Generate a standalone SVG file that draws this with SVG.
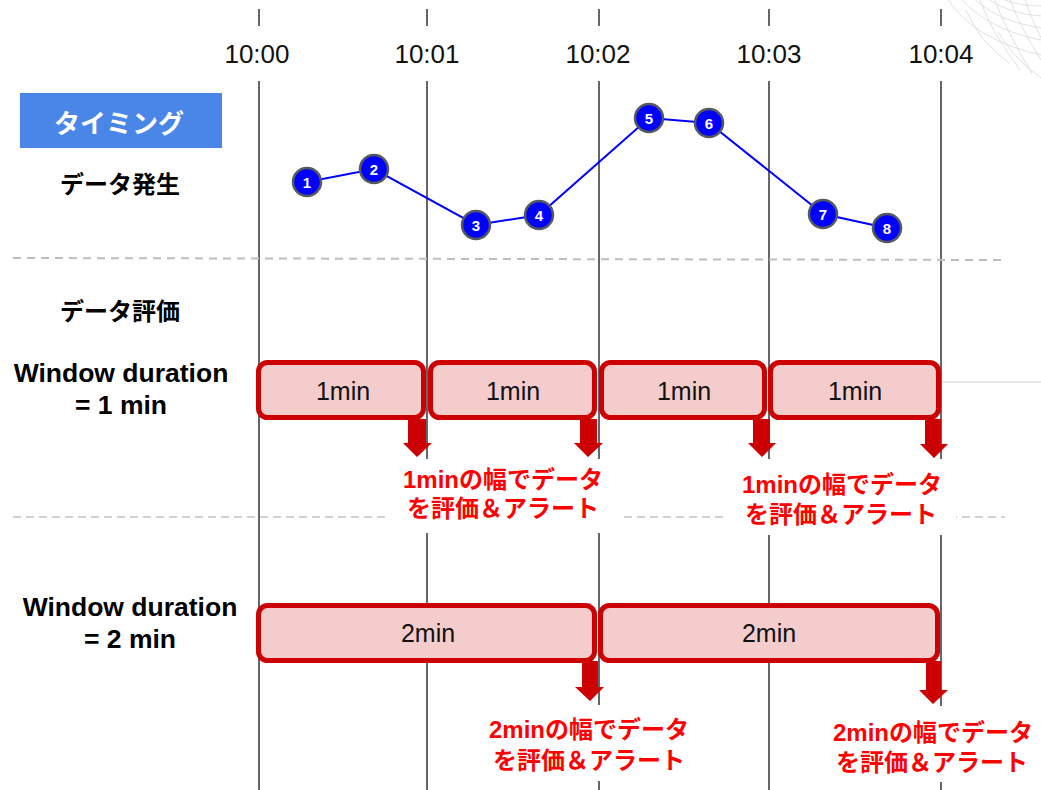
<svg xmlns="http://www.w3.org/2000/svg" width="1041" height="790" viewBox="0 0 1041 790">
<defs>
<style>
.vl{stroke:#64666b;stroke-width:2;fill:none}
.tm{font-family:"Liberation Sans",Arial,sans-serif;font-size:26px;fill:#111;text-anchor:middle}
.lbl{font-family:"Liberation Sans","Noto Sans CJK JP",sans-serif;font-weight:bold;font-size:24px;fill:#000;text-anchor:middle}
.wd{font-family:"Liberation Sans",Arial,sans-serif;font-weight:bold;font-size:26.5px;fill:#000;text-anchor:middle}
.dash1{stroke:#bdbdbd;stroke-width:2;stroke-dasharray:8,6;fill:none}
.dash2{stroke:#c4c4c4;stroke-width:1.6;stroke-dasharray:8,5;fill:none}
.box{fill:#f4cccc;stroke:#cc0000;stroke-width:5}
.bt{font-family:"Liberation Sans",Arial,sans-serif;font-size:25px;fill:#111;text-anchor:middle}
.arr{fill:#cc0000}
.rt{font-family:"Liberation Sans","Noto Sans CJK JP",sans-serif;font-weight:bold;font-size:24px;fill:#ff0000;text-anchor:middle}
.pt{fill:#0000ff;stroke:#555a60;stroke-width:2.5}
.pn{font-family:"Liberation Sans",Arial,sans-serif;font-weight:bold;font-size:15px;fill:#fff;text-anchor:middle}
.mesh{stroke:#d9d9d9;stroke-width:0.8;fill:none}
</style>
</defs>

<g id="decoration">
<path class="mesh" d="M962 0 Q990 30 1041 40"/>
<path class="mesh" d="M975 0 Q1000 22 1041 28"/>
<path class="mesh" d="M990 0 Q1010 14 1041 16"/>
<path class="mesh" d="M1005 0 Q1020 6 1041 6"/>
<path class="mesh" d="M948 0 Q975 40 1041 55"/>
<path class="mesh" d="M998 32 Q1015 60 1041 78"/>
<path class="mesh" d="M966 10 Q978 40 1010 64"/>
<path class="mesh" d="M980 0 Q990 30 1020 70"/>
<path class="mesh" d="M995 0 Q1005 28 1032 74"/>
<path class="mesh" d="M1010 0 Q1020 26 1041 60"/>
<path class="mesh" d="M1025 0 Q1032 20 1041 38"/>
<line x1="941" y1="382" x2="1041" y2="382" stroke="#d0d0d0" stroke-width="1.2"/>
</g>

<g id="grid">
<line class="vl" x1="259" y1="9" x2="259" y2="26"/>
<line class="vl" x1="427" y1="9" x2="427" y2="26"/>
<line class="vl" x1="599" y1="9" x2="599" y2="26"/>
<line class="vl" x1="769" y1="9" x2="769" y2="26"/>
<line class="vl" x1="941" y1="9" x2="941" y2="26"/>
<line class="vl" x1="259" y1="81" x2="259" y2="790"/>
<line class="vl" x1="427" y1="81" x2="427" y2="790"/>
<line class="vl" x1="599" y1="81" x2="599" y2="790"/>
<line class="vl" x1="769" y1="81" x2="769" y2="790"/>
<line class="vl" x1="941" y1="81" x2="941" y2="790"/>
<text class="tm" x="257" y="63">10:00</text>
<text class="tm" x="427" y="63">10:01</text>
<text class="tm" x="598" y="63">10:02</text>
<text class="tm" x="769" y="63">10:03</text>
<text class="tm" x="941" y="63">10:04</text>
<line class="dash1" x1="13" y1="258" x2="1002" y2="260"/>
<line class="dash2" x1="13" y1="517" x2="1005" y2="517"/>
</g>

<g id="labels">
<rect x="20" y="93" width="202" height="55" fill="#4a86e8"/>
<text x="119" y="133" font-family="'Noto Sans CJK JP',sans-serif" font-weight="bold" font-size="26" fill="#fff" text-anchor="middle">タイミング</text>
<text class="lbl" x="120" y="193">データ発生</text>
<text class="lbl" x="120" y="320">データ評価</text>
<text class="wd" x="121" y="382">Window duration</text>
<text class="wd" x="121" y="414">= 1 min</text>
<text class="wd" x="130" y="616">Window duration</text>
<text class="wd" x="130" y="648">= 2 min</text>
</g>

<g id="connectors">
<polyline points="307,182 374,169 476,225 539,215 649,118 709,123 823,214 887,228" fill="none" stroke="#0000ff" stroke-width="2"/>
</g>

<g id="points">
<g id="p1"><circle class="pt" cx="307" cy="182" r="14"/><text class="pn" x="307" y="187.5">1</text></g>
<g id="p2"><circle class="pt" cx="374" cy="169" r="14"/><text class="pn" x="374" y="174.5">2</text></g>
<g id="p3"><circle class="pt" cx="476" cy="225" r="14"/><text class="pn" x="476" y="230.5">3</text></g>
<g id="p4"><circle class="pt" cx="539" cy="215" r="14"/><text class="pn" x="539" y="220.5">4</text></g>
<g id="p5"><circle class="pt" cx="649" cy="118" r="14"/><text class="pn" x="649" y="123.5">5</text></g>
<g id="p6"><circle class="pt" cx="709" cy="123" r="14"/><text class="pn" x="709" y="128.5">6</text></g>
<g id="p7"><circle class="pt" cx="823" cy="214" r="14"/><text class="pn" x="823" y="219.5">7</text></g>
<g id="p8"><circle class="pt" cx="887" cy="228" r="14"/><text class="pn" x="887" y="233.5">8</text></g>
</g>

<g id="win1">
<g id="w1a"><rect class="box" x="258.5" y="362.5" width="165" height="55" rx="9"/><text class="bt" x="343" y="400">1min</text>
<path class="arr" d="M408 419 H426 V443 H432 L417 457 L403 443 H408 Z"/></g>
<g id="w1b"><rect class="box" x="430.5" y="362.5" width="164" height="55" rx="9"/><text class="bt" x="513" y="400">1min</text>
<path class="arr" d="M580 419 H597 V443 H603 L588 457 L574 443 H580 Z"/></g>
<g id="w1c"><rect class="box" x="601.5" y="362.5" width="163" height="55" rx="9"/><text class="bt" x="684" y="400">1min</text>
<path class="arr" d="M753 419 H770 V443 H776 L762 457 L748 443 H753 Z"/></g>
<g id="w1d"><rect class="box" x="770.5" y="362.5" width="168" height="55" rx="9"/><text class="bt" x="855" y="400">1min</text>
<path class="arr" d="M925 419 H941 V444 H948 L934 458 L920 444 H925 Z"/></g>
</g>

<g id="note1">
<rect x="388" y="459" width="232" height="74" fill="#fff"/>
<text class="rt" x="503" y="488">1minの幅でデータ</text>
<text class="rt" x="503" y="517">を評価＆アラート</text>
</g>
<g id="note2">
<rect x="728" y="459" width="228" height="76" fill="#fff"/>
<text class="rt" x="842" y="493">1minの幅でデータ</text>
<text class="rt" x="841" y="523">を評価＆アラート</text>
</g>

<g id="win2">
<g id="w2a"><rect class="box" x="258.5" y="605.5" width="336" height="55" rx="9"/><text class="bt" x="428" y="642">2min</text>
<path class="arr" d="M582 661 H598 V687 H604 L590 701 L575 687 H582 Z"/></g>
<g id="w2b"><rect class="box" x="600.5" y="605.5" width="337" height="55" rx="9"/><text class="bt" x="769" y="642">2min</text>
<path class="arr" d="M926 661 H941 V690 H948 L933 704 L919 690 H926 Z"/></g>
</g>

<g id="note3">
<rect x="475" y="705" width="228" height="76" fill="#fff"/>
<text class="rt" x="589" y="738">2minの幅でデータ</text>
<text class="rt" x="589" y="769">を評価＆アラート</text>
</g>
<g id="note4">
<rect x="822" y="706" width="219" height="76" fill="#fff"/>
<text class="rt" x="933" y="741">2minの幅でデータ</text>
<text class="rt" x="932" y="771">を評価＆アラート</text>
</g>
</svg>
